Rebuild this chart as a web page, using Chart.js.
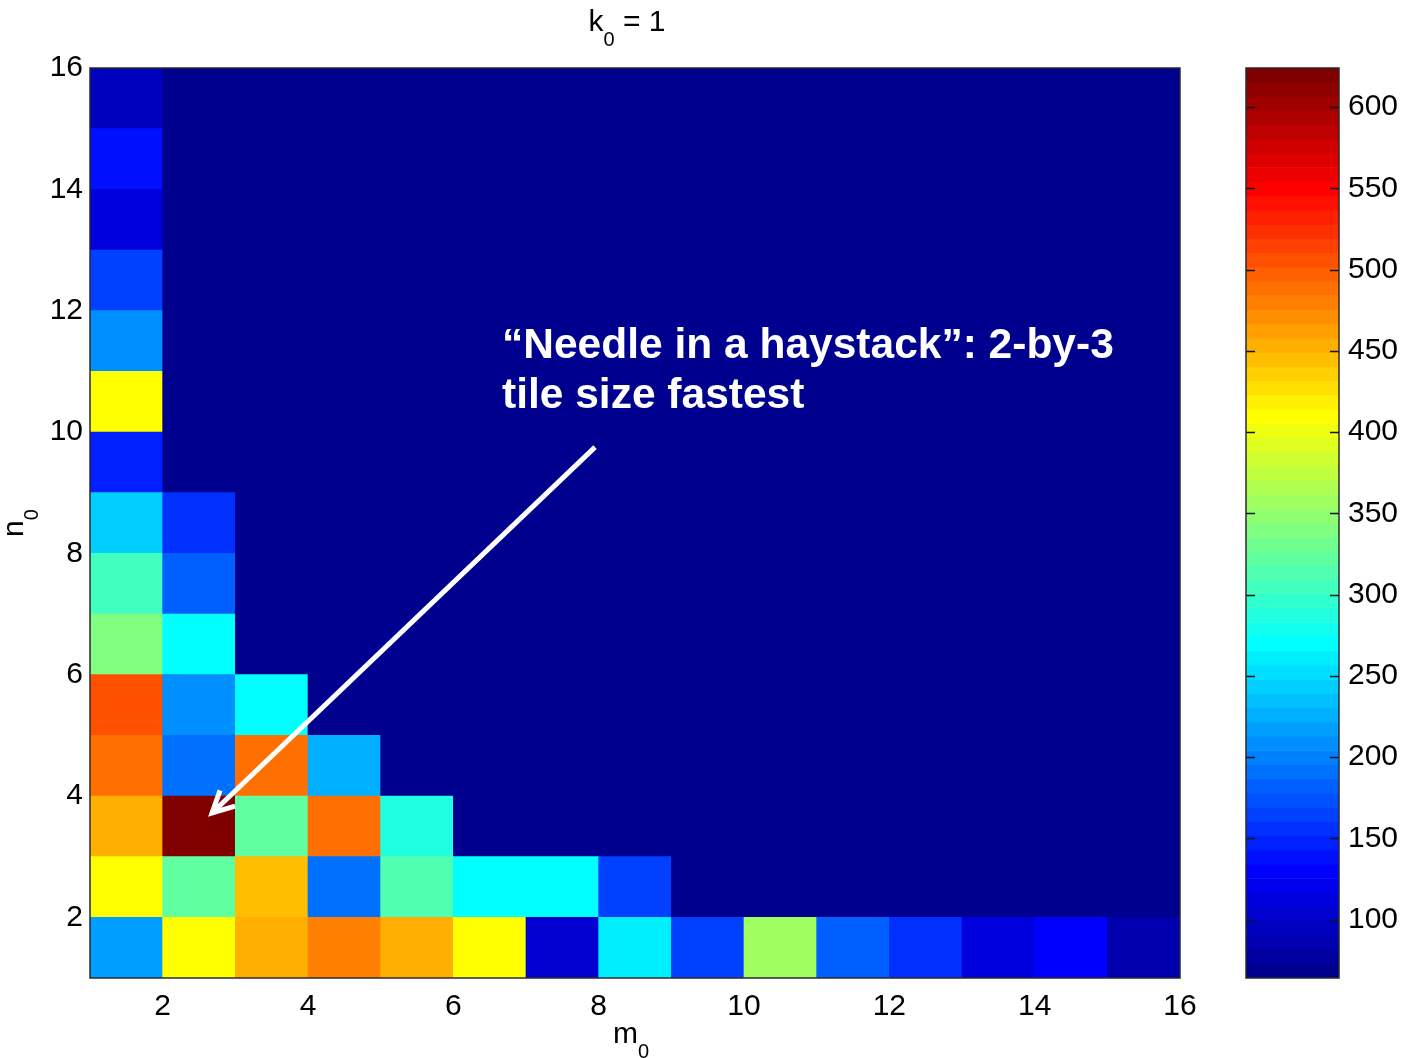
<!DOCTYPE html>
<html>
<head>
<meta charset="utf-8">
<script src="https://cdn.jsdelivr.net/npm/chart.js@4.4.0/dist/chart.umd.min.js"></script>
<style>
    body { margin: 0; background: #fff; width: 1401px; height: 1058px; overflow: hidden; position: relative; }
    #heat { position: absolute; left: 0; top: 0; }
    #cbar { position: absolute; left: 1230px; top: 0; }
</style>
</head>
<body>
<canvas id="heat" width="1230" height="1058"></canvas>
<canvas id="cbar" width="171" height="1058"></canvas>
<script>
// tile sizes: lower edge of each cell (cells span m..m+1, n..n+1)
const mEdges = [1, 2, 3, 4, 5, 6, 7, 8, 9, 10, 11, 12, 13, 14, 15];
const nEdges = [1, 2, 3, 4, 5, 6, 7, 8, 9, 10, 11, 12, 13, 14, 15];

// performance per row n0, one value per m0 column (64 = empty / minimum)
const rowN1  = [217, 410, 453, 480, 453, 410, 103, 261, 165, 357, 182, 152, 112, 130, 86];
const rowN2  = [410, 323, 445, 191, 314, 270, 270, 165, 64, 64, 64, 64, 64, 64, 64];
const rowN3  = [453, 622, 323, 489, 288, 64, 64, 64, 64, 64, 64, 64, 64, 64, 64];
const rowN4  = [489, 191, 489, 226, 64, 64, 64, 64, 64, 64, 64, 64, 64, 64, 64];
const rowN5  = [506, 208, 270, 64, 64, 64, 64, 64, 64, 64, 64, 64, 64, 64, 64];
const rowN6  = [340, 272, 64, 64, 64, 64, 64, 64, 64, 64, 64, 64, 64, 64, 64];
const rowN7  = [305, 182, 64, 64, 64, 64, 64, 64, 64, 64, 64, 64, 64, 64, 64];
const rowN8  = [243, 152, 64, 64, 64, 64, 64, 64, 64, 64, 64, 64, 64, 64, 64];
const rowN9  = [147, 64, 64, 64, 64, 64, 64, 64, 64, 64, 64, 64, 64, 64, 64];
const rowN10 = [410, 64, 64, 64, 64, 64, 64, 64, 64, 64, 64, 64, 64, 64, 64];
const rowN11 = [208, 64, 64, 64, 64, 64, 64, 64, 64, 64, 64, 64, 64, 64, 64];
const rowN12 = [165, 64, 64, 64, 64, 64, 64, 64, 64, 64, 64, 64, 64, 64, 64];
const rowN13 = [112, 64, 64, 64, 64, 64, 64, 64, 64, 64, 64, 64, 64, 64, 64];
const rowN14 = [138, 64, 64, 64, 64, 64, 64, 64, 64, 64, 64, 64, 64, 64, 64];
const rowN15 = [95, 64, 64, 64, 64, 64, 64, 64, 64, 64, 64, 64, 64, 64, 64];
const rows = [rowN1, rowN2, rowN3, rowN4, rowN5, rowN6, rowN7, rowN8,
              rowN9, rowN10, rowN11, rowN12, rowN13, rowN14, rowN15];

const xTicks = [2, 4, 6, 8, 10, 12, 14, 16];
const yTicks = [2, 4, 6, 8, 10, 12, 14, 16];
const cbarTicks = [100, 150, 200, 250, 300, 350, 400, 450, 500, 550, 600];
const cMin = 64;
const cMax = 624;

const FONT = '"Liberation Sans", Arial, Helvetica, sans-serif';

// matlab jet(64)
function jetColor(v) {
    let i = Math.floor((v - cMin) / (cMax - cMin) * 64);
    i = Math.max(0, Math.min(63, i));
    const u = k => k < 1 ? 0 : k <= 16 ? k / 16 : k <= 31 ? 1 : k <= 47 ? (48 - k) / 16 : 0;
    const r = u(i - 23), g = u(i - 7), b = u(i + 9);
    return 'rgb(' + Math.round(r * 255) + ',' + Math.round(g * 255) + ',' + Math.round(b * 255) + ')';
}

// annotation, in data units
const arrowFrom = {m: 7.95, n: 9.75};
const arrowTo = {m: 2.68, n: 3.72};
const noteAt = {m: 6.67, n: 11.22};
const noteLines = ['\u201CNeedle in a haystack\u201D: 2-by-3', 'tile size fastest'];

function textWithSub(ctx, x, y, main, sub, size, subSize, drop) {
    ctx.font = size + 'px ' + FONT;
    ctx.fillText(main, x, y);
    let w = ctx.measureText(main).width;
    ctx.font = subSize + 'px ' + FONT;
    ctx.fillText(sub, x + w, y + drop);
    return w + ctx.measureText(sub).width;
}

const heatDecor = {
    id: 'heatDecor',
    afterDatasetsDraw(chart) {
        const ctx = chart.ctx;
        const a = chart.chartArea;
        const xs = chart.scales.x, ys = chart.scales.y;
        ctx.save();
        // axes box
        ctx.strokeStyle = '#2a2a2a';
        ctx.lineWidth = 1.5;
        ctx.strokeRect(a.left, a.top, a.right - a.left, a.bottom - a.top);

        // arrow
        const x0 = xs.getPixelForValue(arrowFrom.m), y0 = ys.getPixelForValue(arrowFrom.n);
        const x1 = xs.getPixelForValue(arrowTo.m), y1 = ys.getPixelForValue(arrowTo.n);
        ctx.strokeStyle = '#fff';
        ctx.lineWidth = 5;
        ctx.lineCap = 'butt';
        ctx.beginPath();
        ctx.moveTo(x0, y0);
        ctx.lineTo(x1, y1);
        ctx.stroke();
        const ang = Math.atan2(y0 - y1, x0 - x1);
        const len = 24, spread = 0.47;
        ctx.lineJoin = 'miter';
        ctx.beginPath();
        ctx.moveTo(x1 + len * Math.cos(ang - spread), y1 + len * Math.sin(ang - spread));
        ctx.lineTo(x1, y1);
        ctx.lineTo(x1 + len * Math.cos(ang + spread), y1 + len * Math.sin(ang + spread));
        ctx.stroke();

        // note text
        ctx.fillStyle = '#fff';
        ctx.font = 'bold 42.5px ' + FONT;
        ctx.textBaseline = 'alphabetic';
        ctx.textAlign = 'left';
        const tx = xs.getPixelForValue(noteAt.m), ty = ys.getPixelForValue(noteAt.n);
        noteLines.forEach((line, i) => ctx.fillText(line, tx, ty + i * 50));

        // title k0 = 1
        ctx.fillStyle = '#000';
        ctx.font = '30px ' + FONT;
        let wk = ctx.measureText('k').width;
        ctx.font = '20px ' + FONT;
        let w0 = ctx.measureText('0').width;
        ctx.font = '30px ' + FONT;
        let wr = ctx.measureText(' = 1').width;
        let cx = (a.left + a.right) / 2 - 8;
        let sx = cx - (wk + w0 + wr) / 2;
        let used = textWithSub(ctx, sx, 31, 'k', '0', 30, 20, 15);
        ctx.font = '30px ' + FONT;
        ctx.fillText(' = 1', sx + used, 31);

        // x label m0
        textWithSub(ctx, (a.left + a.right) / 2 - 22, 1043, 'm', '0', 30, 20, 15);

        // y label n0 (rotated)
        ctx.translate(23, (a.top + a.bottom) / 2 + 14);
        ctx.rotate(-Math.PI / 2);
        textWithSub(ctx, 0, 0, 'n', '0', 30, 20, 15);
        ctx.restore();
    }
};

const heatSets = rows.map((vals, r) => ({
    data: vals.map((v, c) => ({x: mEdges[c] + 0.5, y: [nEdges[r], nEdges[r] + 1]})),
    backgroundColor: vals.map(jetColor),
    borderWidth: 0,
    grouped: false,
    barPercentage: 1,
    categoryPercentage: 1
}));

new Chart(document.getElementById('heat').getContext('2d'), {
    type: 'bar',
    data: {datasets: heatSets},
    options: {
        responsive: false,
        animation: false,
        events: [],
        layout: {padding: {top: 68, right: 50, left: 0, bottom: 0}},
        plugins: {legend: {display: false}, tooltip: {enabled: false}, title: {display: false}},
        scales: {
            x: {
                type: 'linear', min: 1, max: 16, offset: false,
                grid: {display: false, drawTicks: false},
                border: {display: false},
                afterBuildTicks: s => { s.ticks = xTicks.map(v => ({value: v})); },
                afterFit: s => { s.height = 80; },
                ticks: {color: '#000', font: {family: FONT, size: 30}, padding: 11, maxRotation: 0, autoSkip: false}
            },
            y: {
                type: 'linear', min: 1, max: 16, beginAtZero: false,
                grid: {display: false, drawTicks: false},
                border: {display: false},
                afterBuildTicks: s => { s.ticks = yTicks.map(v => ({value: v})); },
                afterFit: s => { s.width = 90; },
                ticks: {color: '#000', font: {family: FONT, size: 30}, padding: 7, autoSkip: false}
            }
        }
    },
    plugins: [heatDecor]
});

// colorbar
const step = (cMax - cMin) / 64;
const bands = [];
for (let i = 0; i < 64; i++) bands.push(cMin + i * step);

const cbarDecor = {
    id: 'cbarDecor',
    afterDatasetsDraw(chart) {
        const ctx = chart.ctx;
        const a = chart.chartArea;
        const ys = chart.scales.y;
        ctx.save();
        ctx.strokeStyle = '#111';
        ctx.lineWidth = 1.5;
        cbarTicks.forEach(t => {
            const py = Math.round(ys.getPixelForValue(t)) + 0.5;
            ctx.beginPath();
            ctx.moveTo(a.left, py); ctx.lineTo(a.left + 9, py);
            ctx.moveTo(a.right - 9, py); ctx.lineTo(a.right, py);
            ctx.stroke();
        });
        ctx.strokeStyle = '#2a2a2a';
        ctx.strokeRect(a.left, a.top, a.right - a.left, a.bottom - a.top);
        ctx.restore();
    }
};

new Chart(document.getElementById('cbar').getContext('2d'), {
    type: 'bar',
    data: {
        labels: ['c'],
        datasets: [{
            data: bands.map(b => ({x: 'c', y: [b, b + step]})),
            backgroundColor: bands.map(b => jetColor(b + step / 2)),
            borderWidth: 0,
            barPercentage: 1,
            categoryPercentage: 1
        }]
    },
    options: {
        responsive: false,
        animation: false,
        events: [],
        layout: {padding: {top: 68, right: 0, left: 16, bottom: 80}},
        plugins: {legend: {display: false}, tooltip: {enabled: false}},
        scales: {
            x: {type: 'category', display: false, offset: true},
            y: {
                type: 'linear', position: 'right', min: cMin, max: cMax, beginAtZero: false,
                grid: {display: false, drawTicks: false},
                border: {display: false},
                afterBuildTicks: s => { s.ticks = cbarTicks.map(v => ({value: v})); },
                afterFit: s => { s.width = 62; },
                ticks: {color: '#000', font: {family: FONT, size: 30}, padding: 9, autoSkip: false}
            }
        }
    },
    plugins: [cbarDecor]
});
</script>
</body>
</html>
